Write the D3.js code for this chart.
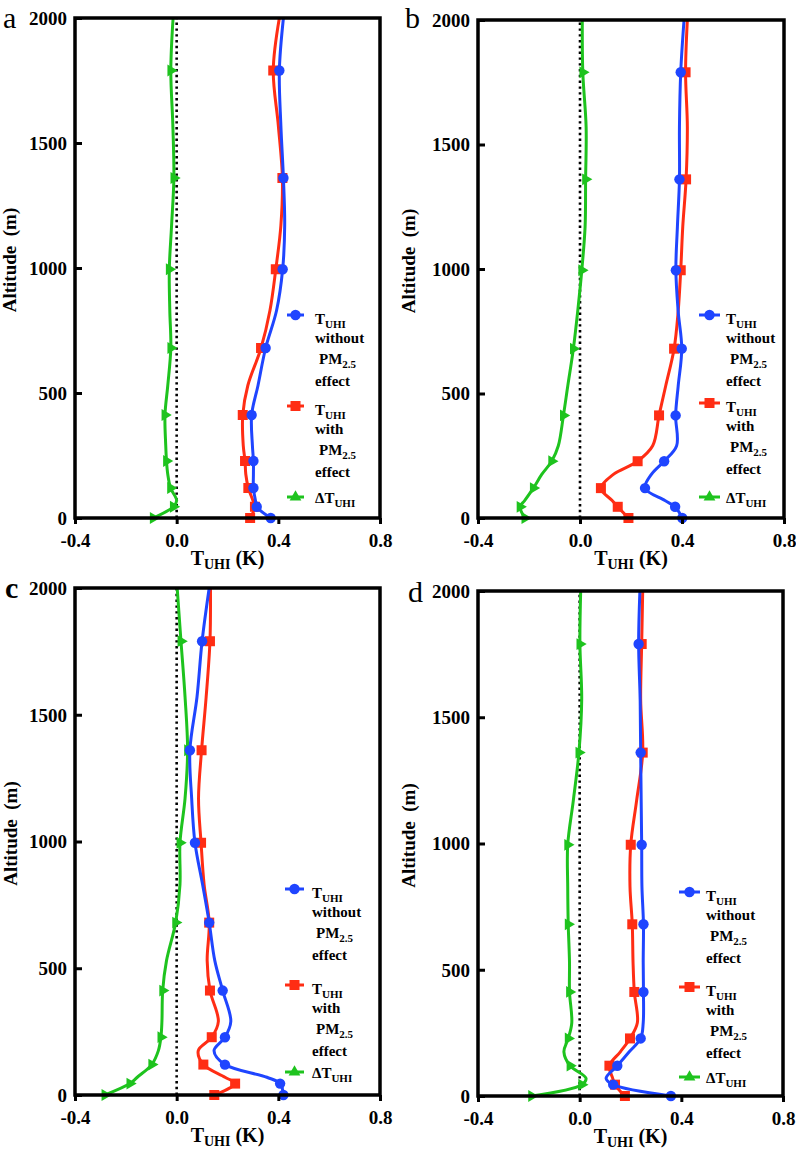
<!DOCTYPE html>
<html>
<head>
<meta charset="utf-8">
<script src="https://cdn.jsdelivr.net/npm/d3@7"></script>
<style>
  body { margin: 0; background: #fff; }
  svg { display: block; }
  svg text { font-family: "Liberation Serif", "DejaVu Serif", serif !important; }
</style>
</head>
<body>
<svg id="chart" width="796" height="1150"></svg>
<script>
// ---------- DATA ----------
const altitudes = [0, 45, 70, 120, 175, 228, 290, 412, 530, 680, 830, 995, 1170, 1360, 1570, 1790, 2000];
const markerIdx = [0, 1, 3, 5, 7, 9, 11, 13, 15];
const xTicks = [-0.4, 0.0, 0.4, 0.8];
const yTicks = [0, 500, 1000, 1500, 2000];
const panelLabels = ["a", "b", "c", "d"];
const seriesNames = ["without", "with", "delta"];

const blueA  = [0.370, 0.315, 0.310, 0.302, 0.302, 0.302, 0.298, 0.295, 0.320, 0.350, 0.393, 0.417, 0.425, 0.420, 0.410, 0.404, 0.420];
const redA   = [0.289, 0.308, 0.300, 0.282, 0.272, 0.269, 0.262, 0.260, 0.280, 0.332, 0.367, 0.390, 0.410, 0.416, 0.400, 0.380, 0.404];
const greenA = [-0.092, -0.013, 0.000, -0.024, -0.035, -0.040, -0.043, -0.046, -0.035, -0.023, -0.027, -0.029, -0.020, -0.011, -0.015, -0.023, -0.014];

const blueB  = [0.401, 0.373, 0.333, 0.255, 0.280, 0.330, 0.379, 0.375, 0.385, 0.399, 0.385, 0.376, 0.382, 0.390, 0.390, 0.395, 0.408];
const redB   = [0.190, 0.148, 0.126, 0.082, 0.131, 0.226, 0.285, 0.310, 0.336, 0.369, 0.385, 0.395, 0.403, 0.416, 0.421, 0.414, 0.421];
const greenB = [-0.216, -0.235, -0.217, -0.183, -0.150, -0.111, -0.085, -0.065, -0.048, -0.026, -0.009, 0.007, 0.020, 0.022, 0.024, 0.011, 0.009];

const blueC  = [0.420, 0.407, 0.355, 0.190, 0.147, 0.190, 0.213, 0.181, 0.150, 0.128, 0.102, 0.072, 0.059, 0.052, 0.080, 0.100, 0.128];
const redC   = [0.148, 0.230, 0.190, 0.105, 0.085, 0.138, 0.164, 0.131, 0.120, 0.128, 0.108, 0.096, 0.086, 0.098, 0.116, 0.131, 0.133];
const greenC = [-0.282, -0.184, -0.155, -0.098, -0.072, -0.062, -0.058, -0.055, -0.040, -0.004, 0.013, 0.013, 0.033, 0.043, 0.033, 0.017, 0.002];

const blueD  = [0.359, 0.132, 0.104, 0.148, 0.195, 0.240, 0.250, 0.251, 0.250, 0.251, 0.245, 0.244, 0.242, 0.240, 0.238, 0.232, 0.237];
const redD   = [0.178, 0.139, 0.130, 0.117, 0.160, 0.198, 0.227, 0.215, 0.210, 0.207, 0.198, 0.201, 0.224, 0.248, 0.240, 0.244, 0.248];
const greenD = [-0.189, 0.008, 0.025, -0.038, -0.062, -0.045, -0.031, -0.040, -0.040, -0.045, -0.047, -0.047, -0.025, -0.003, 0.008, 0.001, 0.004];

// ---------- STYLE / LAYOUT ----------
const COLORS = { without: "#1f45ff", with: "#ff2d14", delta: "#1ec31e" };
const FONT = "Liberation Serif";

const panels = [
  { label: panelLabels[0], bold: false, box: {l: 75,  r: 380, t: 18,  b: 518},  data: [blueA, redA, greenA], lab: {x: 3,   y: 28},
    leg: {x1: 287, x2: 304, tx: 315, y: [315, 406, 497]}, yt: 16 },
  { label: panelLabels[1], bold: false, box: {l: 478, r: 784, t: 20,  b: 518},  data: [blueB, redB, greenB], lab: {x: 405, y: 28},
    leg: {x1: 699, x2: 720, tx: 726, y: [315, 403, 497]}, yt: 415 },
  { label: panelLabels[2], bold: true,  box: {l: 75,  r: 380, t: 588, b: 1095}, data: [blueC, redC, greenC], lab: {x: 5,   y: 598},
    leg: {x1: 285, x2: 304, tx: 312, y: [889, 985, 1072]}, yt: 17 },
  { label: panelLabels[3], bold: false, box: {l: 478, r: 783, t: 591, b: 1096}, data: [blueD, redD, greenD], lab: {x: 408, y: 602},
    leg: {x1: 679, x2: 700, tx: 706, y: [892, 987, 1077]}, yt: 415 }
];

const svg = d3.select("#chart");

function addTUHI(textSel, prefix, suffix, subSize, shift) {
  textSel.append("tspan").text(prefix + "T");
  textSel.append("tspan").attr("font-size", subSize).attr("dy", shift).text("UHI");
  if (suffix) textSel.append("tspan").attr("dy", -shift).text(suffix);
}

function drawMarker(g, type, x, y) {
  if (type === "without") {
    g.append("circle").attr("cx", x).attr("cy", y).attr("r", 5.2).attr("fill", COLORS.without);
  } else if (type === "with") {
    g.append("rect").attr("x", x - 5).attr("y", y - 5).attr("width", 10).attr("height", 10).attr("fill", COLORS.with);
  } else {
    g.append("path").attr("d", d3.symbol().type(d3.symbolTriangle).size(60)())
      .attr("transform", `translate(${x},${y}) rotate(90)`).attr("fill", COLORS.delta);
  }
}

panels.forEach(p => {
  const B = p.box;
  const x = d3.scaleLinear().domain([-0.4, 0.8]).range([B.l, B.r]);
  const y = d3.scaleLinear().domain([0, 2000]).range([B.b, B.t]);
  const g = svg.append("g");

  // zero dotted line
  g.append("line").attr("x1", x(0)).attr("x2", x(0)).attr("y1", y(0)).attr("y2", y(2000))
    .attr("stroke", "#000").attr("stroke-width", 2.6).attr("stroke-dasharray", "2.4,3.4");

  // series
  const line = d3.line().x(d => x(d[0])).y(d => y(d[1])).curve(d3.curveCatmullRom.alpha(0.5));
  const order = [2, 1, 0];
  order.forEach(si => {
    const vals = p.data[si];
    const name = seriesNames[si];
    const pts = vals.map((v, i) => [v, altitudes[i]]);
    g.append("path").datum(pts).attr("d", line).attr("fill", "none")
      .attr("stroke", COLORS[name]).attr("stroke-width", 3).attr("stroke-linejoin", "round");
    markerIdx.forEach(i => drawMarker(g, name, x(vals[i]), y(altitudes[i])));
  });

  // frame
  g.append("rect").attr("x", B.l).attr("y", B.t).attr("width", B.r - B.l).attr("height", B.b - B.t)
    .attr("fill", "none").attr("stroke", "#000").attr("stroke-width", 3.5);

  // x axis
  const xAxis = d3.axisBottom(x).tickValues(xTicks).tickSize(6).tickFormat(d => d.toFixed(1));
  const xa = g.append("g").attr("transform", `translate(0,${B.b})`).call(xAxis).attr("font-family", FONT);
  xa.select(".domain").remove();
  xa.selectAll(".tick line").attr("stroke", "#000").attr("stroke-width", 3);
  xa.selectAll(".tick text").attr("font-weight", "bold").attr("font-size", 19)
    .attr("fill", "#000").attr("y", 0).attr("dy", 29);

  // y axis (ticks inward)
  const yAxis = d3.axisLeft(y).tickValues(yTicks).tickSize(-7).tickPadding(14).tickFormat(d3.format("d"));
  const ya = g.append("g").attr("transform", `translate(${B.l},0)`).call(yAxis).attr("font-family", FONT);
  ya.select(".domain").remove();
  ya.selectAll(".tick line").attr("stroke", "#000").attr("stroke-width", 3);
  ya.selectAll(".tick text").attr("font-weight", "bold").attr("font-size", 19)
    .attr("fill", "#000").attr("x", -8).attr("dy", "0.34em");

  // axis titles
  const xt = g.append("text").attr("x", (B.l + B.r) / 2).attr("y", B.b + 47).attr("text-anchor", "middle")
    .attr("font-weight", "bold").attr("font-size", 20);
  addTUHI(xt, "", " (K)", 14, 4);

  g.append("text").attr("transform", `translate(${p.yt},${(B.t + B.b) / 2 - 8}) rotate(-90)`)
    .attr("text-anchor", "middle").attr("font-weight", "bold").attr("font-size", 19)
    .attr("xml:space", "preserve").text("Altitude  (m)");

  // panel label
  g.append("text").attr("x", p.lab.x).attr("y", p.lab.y)
    .attr("font-weight", p.bold ? "bold" : "normal").attr("font-size", 30).text(p.label);

  // legend
  const L = p.leg;
  const legLines = [
    ["T", "without", " PM", "effect"],
    ["T", "with", " PM", "effect"]
  ];
  const offs = [9, 28, 49, 71];
  [0, 1, 2].forEach(si => {
    const name = seriesNames[si];
    const ly = L.y[si];
    g.append("line").attr("x1", L.x1).attr("x2", L.x2).attr("y1", ly).attr("y2", ly)
      .attr("stroke", COLORS[name]).attr("stroke-width", 3);
    if (si === 2) {
      g.append("path").attr("d", d3.symbol().type(d3.symbolTriangle).size(60)())
        .attr("transform", `translate(${(L.x1 + L.x2) / 2},${ly})`).attr("fill", COLORS.delta);
    } else {
      drawMarker(g, name, (L.x1 + L.x2) / 2, ly);
    }
    const tstyle = s => s.attr("font-weight", "bold").attr("font-size", 15).attr("fill", "#000");
    if (si === 2) {
      const t = g.append("text").attr("x", L.tx).attr("y", ly + 6).call(tstyle);
      addTUHI(t, "\u0394", "", 11, 4);
    } else {
      const t0 = g.append("text").attr("x", L.tx).attr("y", ly + offs[0]).call(tstyle);
      addTUHI(t0, "", "", 11, 4);
      g.append("text").attr("x", L.tx).attr("y", ly + offs[1]).call(tstyle).text(legLines[si][1]);
      const t2 = g.append("text").attr("x", L.tx + 4).attr("y", ly + offs[2]).call(tstyle);
      t2.append("tspan").text("PM");
      t2.append("tspan").attr("font-size", 11).attr("dy", 4).text("2.5");
      g.append("text").attr("x", L.tx).attr("y", ly + offs[3]).call(tstyle).text(legLines[si][3]);
    }
  });
});
</script>
</body>
</html>
